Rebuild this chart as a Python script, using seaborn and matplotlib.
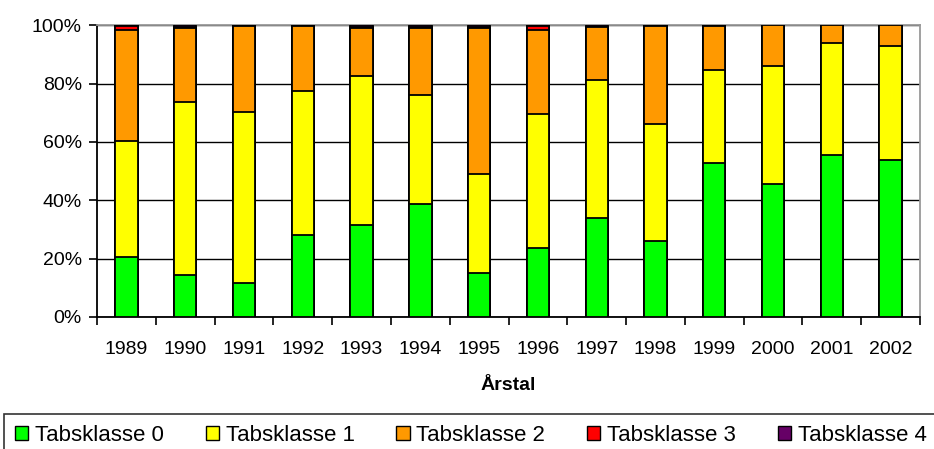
import numpy as np
import pandas as pd
import matplotlib
matplotlib.use("Agg")
import matplotlib.pyplot as plt
import matplotlib.ticker as mticker
from matplotlib.patches import Patch
import seaborn as sns

# data (share in % per year)
years = [1989, 1990, 1991, 1992, 1993, 1994, 1995, 1996, 1997, 1998, 1999, 2000, 2001, 2002]
klasse0 = [20.5, 14.4, 11.6, 28.1, 31.2, 38.4, 15.1, 23.6, 33.9, 26.0, 52.7, 45.5, 55.5, 53.8]
klasse1 = [39.8, 59.2, 58.6, 49.3, 51.0, 37.3, 33.5, 45.9, 46.9, 40.1, 31.9, 40.5, 38.3, 39.0]
klasse2 = [38.0, 25.2, 29.5, 22.3, 16.4, 22.9, 50.0, 28.8, 18.2, 33.6, 15.1, 14.0, 6.2, 7.2]
klasse3 = [1.5, 0.2, 0.0, 0.0, 0.2, 0.2, 0.2, 1.5, 0.0, 0.0, 0.0, 0.0, 0.0, 0.0]
klasse4 = [0.2, 0.7, 0.3, 0.3, 0.7, 0.7, 0.7, 0.2, 0.6, 0.3, 0.3, 0.0, 0.0, 0.0]
labels = ["Tabsklasse 0", "Tabsklasse 1", "Tabsklasse 2", "Tabsklasse 3", "Tabsklasse 4"]
colors = ["#00ff00", "#ffff00", "#ff9900", "#ff0000", "#660066"]

plt.rcParams['font.family'] = ['Liberation Sans', 'DejaVu Sans']

df = pd.DataFrame({"year": [str(y) for y in years]})
series = [klasse0, klasse1, klasse2, klasse3, klasse4]
raw = np.array(series)
pct = raw / raw.sum(axis=0) * 100
cum = np.cumsum(pct, axis=0)

fig = plt.figure(figsize=(9.34, 4.49), dpi=100)
ax = fig.add_axes([0.104, 0.294, 0.881, 0.650])

# stacked look: draw cumulative totals from the top class down
for i in range(4, -1, -1):
    df["val"] = cum[i]
    sns.barplot(data=df, x="year", y="val", color=colors[i], width=0.38,
                edgecolor="black", linewidth=1.3, saturation=1, ax=ax, zorder=3)

ax.set_ylim(0, 100)
ax.set_xlim(-0.5, len(years) - 0.5)
ax.yaxis.set_major_locator(mticker.MultipleLocator(20))
ax.yaxis.set_major_formatter(mticker.FuncFormatter(lambda v, p: f"{int(v)}%"))
ax.grid(axis="y", color="black", linewidth=1, zorder=0)
ax.set_axisbelow(True)

ax.set_xticks(np.arange(-0.5, len(years), 1), minor=True)
ax.tick_params(axis="x", which="major", length=0, pad=17, labelsize=14)
ax.tick_params(axis="x", which="minor", length=6, width=1.2, color="black")
ax.tick_params(axis="y", length=6, width=1.2, labelsize=14, pad=5)

ax.set_ylabel("")
ax.set_xlabel("Årstal", fontsize=14, fontweight="bold", labelpad=14)

for s in ["left", "bottom"]:
    ax.spines[s].set_color("black")
    ax.spines[s].set_linewidth(1.3)
for s in ["top", "right"]:
    ax.spines[s].set_color("#999999")
    ax.spines[s].set_linewidth(1.3)

handles = [Patch(facecolor=c, edgecolor="black", linewidth=1) for c in colors]
leg = fig.legend(handles, labels, loc="lower left", bbox_to_anchor=(0.004, -0.018, 1.0, 0.1),
                 mode="expand", ncol=5, fontsize=16, frameon=True, fancybox=False,
                 edgecolor="black", handlelength=0.6, handleheight=0.6, handletextpad=0.3,
                 columnspacing=0.6, borderpad=0.5, borderaxespad=0)
leg.get_frame().set_linewidth(1.2)

fig.savefig("out.png", dpi=100)
